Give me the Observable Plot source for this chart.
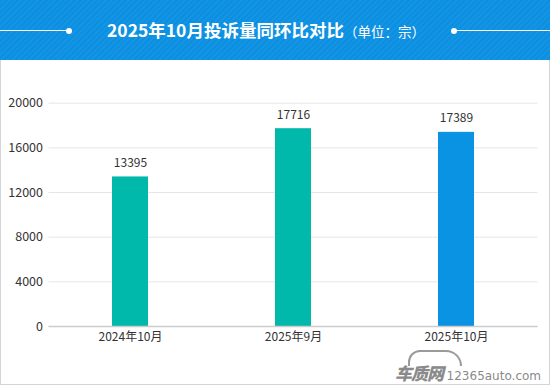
<!DOCTYPE html>
<html>
<head>
<meta charset="utf-8">
<script src="https://cdn.jsdelivr.net/npm/d3@7"></script>
<script src="https://cdn.jsdelivr.net/npm/@observablehq/plot@0.6"></script>
<style>
  html, body { margin: 0; padding: 0; background: #fff; width: 550px; height: 386px; overflow: hidden; font-family: "Noto Sans CJK SC", "Noto Sans", sans-serif; }
  #header { position: absolute; left: 0; top: 0; width: 550px; height: 60px;
    background: repeating-linear-gradient(135deg, #0b8fe1 0px, #0b8fe1 2px, #1494e3 2px, #1494e3 4px); }
  #title { position: absolute; top: 0; height: 60px; line-height: 60px; left: 107px; color: #fff; white-space: nowrap; }
  #title b { font-size: 17.5px; font-weight: 700; }
  #title span { font-size: 13.5px; font-weight: 400; }
  .hline { position: absolute; top: 30px; height: 1px; background: #fff; }
  .dot { position: absolute; top: 27.5px; width: 6px; height: 6px; border-radius: 3px; background: #fff; }
  #frame { position: absolute; left: 0; top: 60px; width: 548px; height: 324px; border: 1px solid #d4d4d4; border-top: none; }
  #chart { position: absolute; left: 0; top: 60px; }
  #wm { position: absolute; left: 395px; top: 360px; color: #8a8a8a; white-space: nowrap; }
  #wm .cn { font-size: 17px; font-weight: 900; letter-spacing: -1px; font-style: italic; }
  #wm .en { font-size: 12px; font-family: "DejaVu Sans", sans-serif; }
  #roof { position: absolute; left: 408px; top: 350px; width: 50px; height: 14px; border: 2px solid #9a9a9a; border-bottom: none; border-radius: 30px 40px 0 0; }
</style>
</head>
<body>
<div id="header">
  <div class="hline" style="left:0;width:70px"></div>
  <div class="dot" style="left:66px"></div>
  <div class="dot" style="left:451px"></div>
  <div class="hline" style="left:454px;width:96px"></div>
  <div id="title"><b>2025年10月投诉量同环比对比</b><span>（单位：宗）</span></div>
</div>
<div id="frame"></div>
<div id="chart"></div>
<div id="roof"></div>
<div id="wm"><span class="cn">车质网</span> <span class="en">12365auto.com</span></div>
<script>
const months = ["2024年10月", "2025年9月", "2025年10月"];
const values = [13395, 17716, 17389];
const barColors = ["#00b9aa", "#00b9aa", "#0a92e3"];
const yTicks = [0, 4000, 8000, 12000, 16000, 20000];

const data = months.map((m, i) => ({month: m, value: values[i], color: barColors[i]}));

const chart = Plot.plot({
  width: 550,
  height: 326,
  marginLeft: 48.5,
  marginRight: 12.5,
  marginTop: 42.7,
  marginBottom: 60,
  style: {fontSize: "12px", fontFamily: "'Noto Sans CJK SC', sans-serif", color: "#333", background: "transparent"},
  x: {domain: months, paddingInner: 0.78, paddingOuter: 0.39, label: null},
  y: {domain: [0, 20000], label: null},
  color: {type: "identity"},
  marks: [
    Plot.gridY(yTicks, {stroke: "#e6e6e6", strokeOpacity: 1, strokeWidth: 1}),
    Plot.axisY(yTicks, {tickSize: 0, tickPadding: 6, fontSize: 12.5, fill: "#333", label: null, tickFormat: d3.format("d")}),
    Plot.axisX({tickSize: 0, tickPadding: 6, fill: "#333", label: null}),
    Plot.barY(data, {x: "month", y: "value", fill: "color"}),
    Plot.ruleY([0], {stroke: "#cccccc", strokeWidth: 1.5}),
    Plot.text(data, {x: "month", y: "value", text: d => String(d.value), dy: -14, fill: "#333", fontSize: 12})
  ]
});
document.getElementById("chart").appendChild(chart);
</script>
</body>
</html>
